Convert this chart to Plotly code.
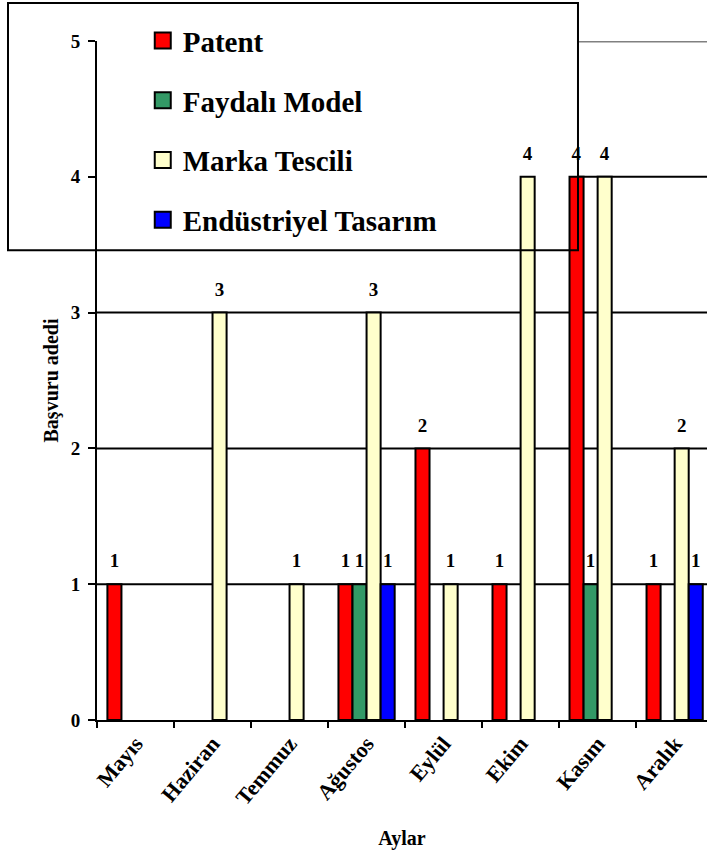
import plotly.graph_objects as go

months = ["Mayıs", "Haziran", "Temmuz", "Ağustos", "Eylül", "Ekim", "Kasım", "Aralık"]
patent = [1, 0, 0, 1, 2, 1, 4, 1]
faydali_model = [0, 0, 0, 1, 0, 0, 1, 0]
marka_tescili = [0, 3, 1, 3, 1, 4, 4, 2]
endustriyel_tasarim = [0, 0, 0, 1, 0, 0, 0, 1]
y_ticks = [0, 1, 2, 3, 4, 5]

series = [
    ("Patent", patent, "#FF0000"),
    ("Faydalı Model", faydali_model, "#339966"),
    ("Marka Tescili", marka_tescili, "#FFFFCC"),
    ("Endüstriyel Tasarım", endustriyel_tasarim, "#0000FF"),
]

FONT = "Liberation Serif"

fig = go.Figure()
for name, vals, color in series:
    yv = [v if v else None for v in vals]
    txt = [f"<span style='font-size:19px'><b>{v}</b></span><br> " if v else "" for v in vals]
    fig.add_trace(go.Bar(
        name=name, x=months, y=yv,
        marker=dict(color=color, line=dict(color="black", width=2)),
        text=txt, textposition="outside", constraintext="none",
        textfont=dict(family=FONT, size=9, color="black"),
        legendgroup=name, showlegend=False, cliponaxis=False,
        hoverinfo="x+y+name",
    ))
# legend entries with larger square swatches
for name, vals, color in series:
    fig.add_trace(go.Scatter(
        name=name, x=[None], y=[None], mode="markers",
        marker=dict(symbol="square", size=16, color=color, line=dict(color="black", width=2)),
        legendgroup=name, showlegend=True, hoverinfo="skip",
    ))

shapes = []
# gridlines (below traces)
for v in y_ticks[1:-1]:
    shapes.append(dict(type="line", layer="below", xref="paper", yref="y",
                       x0=0, x1=1, y0=v, y1=v, line=dict(color="black", width=2)))
shapes.append(dict(type="line", layer="below", xref="paper", yref="y",
                   x0=0, x1=1, y0=y_ticks[-1], y1=y_ticks[-1], line=dict(color="#808080", width=3)))
# legend box fill (hides gridlines, under bars)
shapes.append(dict(type="rect", layer="below", xref="paper", yref="paper",
                   x0=-0.1459, x1=0.7885, y0=0.692, y1=1.056,
                   fillcolor="white", line=dict(width=0)))
# legend box border
shapes.append(dict(type="rect", layer="above", xref="paper", yref="paper",
                   x0=-0.1459, x1=0.7885, y0=0.692, y1=1.056,
                   fillcolor="rgba(0,0,0,0)", line=dict(color="black", width=2)))

fig.update_layout(
    width=707, height=852,
    margin=dict(l=97, r=0, t=41, b=132, autoexpand=False),
    paper_bgcolor="white", plot_bgcolor="white",
    barmode="group", bargap=0.27, bargroupgap=0,
    font=dict(family=FONT, color="black"),
    shapes=shapes,
    showlegend=True,
    legend=dict(
        x=0.075, y=1.038, xanchor="left", yanchor="top",
        bgcolor="rgba(0,0,0,0)", borderwidth=0,
        font=dict(family=FONT, size=29, color="black", weight="bold"),
        tracegroupgap=19, traceorder="grouped", itemsizing="trace",
    ),
    xaxis=dict(
        type="category", range=[-0.5, 7.42],
        showline=True, linecolor="black", linewidth=2,
        ticks="outside", ticklen=6, tickwidth=2, tickcolor="black",
        tickson="boundaries", tickangle=-50,
        tickfont=dict(family=FONT, size=22, color="black", weight="bold"),
        showgrid=False,
        title=dict(text="<b>Aylar</b>", font=dict(family=FONT, size=20), standoff=22),
    ),
    yaxis=dict(
        range=[0, 5], tickvals=y_ticks,
        showline=True, linecolor="black", linewidth=2,
        ticks="outside", ticklen=7, tickwidth=2, tickcolor="black",
        ticklabelstandoff=4,
        tickfont=dict(family=FONT, size=19, color="black", weight="bold"),
        showgrid=False, zeroline=False,
        title=dict(text="<b>Başvuru adedi</b>", font=dict(family=FONT, size=20), standoff=7),
    ),
)

fig.write_html("out.html", config={"displayModeBar": False},
               post_script="document.body.style.margin='0';")
